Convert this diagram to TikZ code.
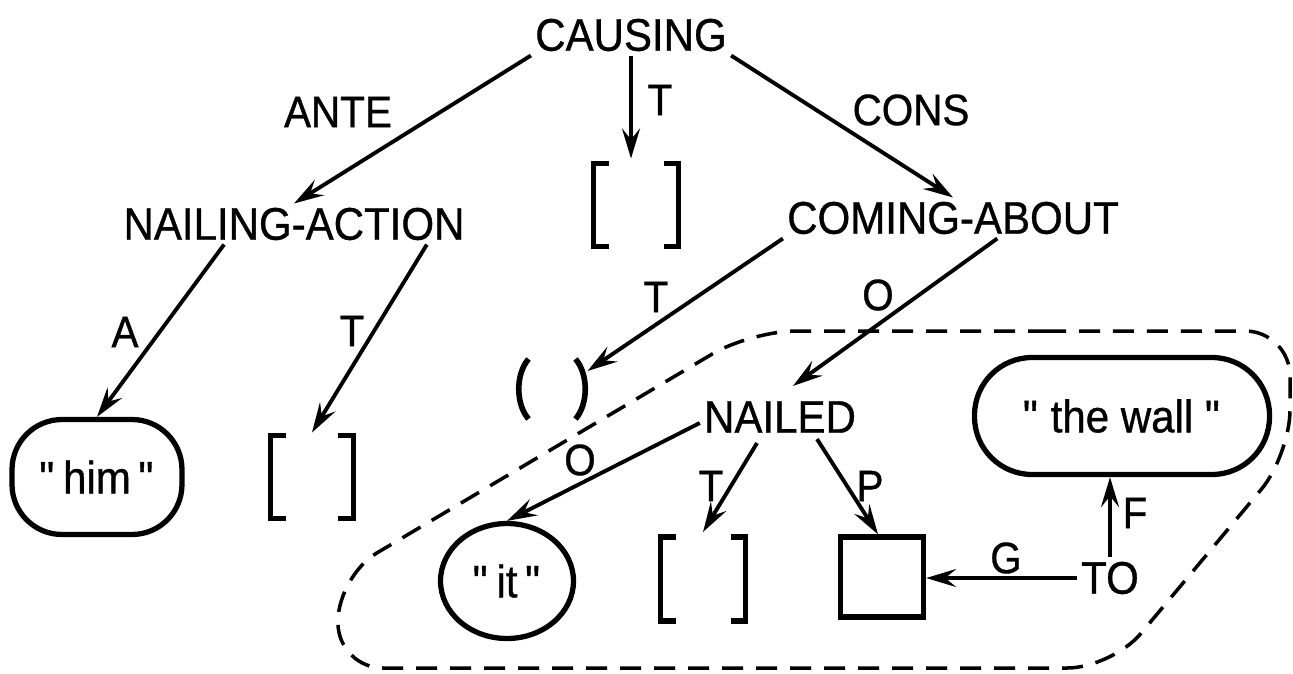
\documentclass[tikz,border=0pt]{standalone}
\usepackage{fontspec}
\setmainfont{Liberation Sans}[FakeStretch=0.92,FakeBold=0.8]
\usetikzlibrary{arrows.meta,calc,shapes.geometric}
\newcommand\dq{\XeTeXglyph\XeTeXcharglyph"22\relax}
\newcommand\sqbrk[1]{%
  \draw[brk] ($(#1.north west)+(15,0)$) -- (#1.north west) -- (#1.south west) -- ($(#1.south west)+(15,0)$);
  \draw[brk] ($(#1.north east)+(-15,0)$) -- (#1.north east) -- (#1.south east) -- ($(#1.south east)+(-15,0)$);}
\begin{document}
\begin{tikzpicture}[x=0.02cm,y=-0.02cm,
  txt/.style={font=\fontsize{26}{30}\selectfont, inner sep=0.08cm},
  lbl/.style={font=\fontsize{25}{30}\selectfont, inner sep=0pt},
  edge/.style={line width=2.2pt, -{Stealth[length=0.6cm,width=0.36cm,inset=0.22cm]}},
  bord/.style={draw, line width=3pt},
  brk/.style={line width=3.2pt},
  brknode/.style={rectangle, inner sep=0pt, outer sep=0pt},
  bnd/.style={line width=2pt, dash pattern=on 0.42cm off 0.26cm, rounded corners=0.9cm}]
\path[fill=white,use as bounding box] (0,0) rectangle (1293,673);

% main nodes
\node[txt] (causing) at (631,35) {CAUSING};
\node[txt] (naction) at (294,224) {NAILING-ACTION};
\node[txt] (coming) at (953,218) {COMING-ABOUT};
\node[txt] (nailed) at (780,417) {NAILED};
\node[txt] (to) at (1110,578) {TO};
\node[bord, txt, rounded corners=1cm, minimum width=3.4cm, minimum height=2.3cm] (him) at (97,477) {\dq\,him\,\dq};
\node[bord, txt, ellipse, minimum width=2.66cm, minimum height=2.3cm] (it) at (507,581) {\dq\,it\,\dq};
\node[bord, txt, rounded corners=1.15cm, minimum width=5.9cm, minimum height=2.34cm] (wall) at (1122,416) {\dq\ the wall \dq};
\node[bord, minimum width=1.66cm, minimum height=1.6cm, inner sep=0pt] (sq) at (882,577) {};

% bracket and paren nodes
\node[brknode, minimum width=1.7cm, minimum height=1.66cm] (tb) at (636,205) {};
\node[brknode, minimum width=1.66cm, minimum height=1.66cm] (lb) at (312,477) {};
\node[brknode, minimum width=1.7cm, minimum height=1.68cm] (nb) at (703,579) {};
\node[brknode, minimum width=1.34cm, minimum height=1.2cm] (par) at (552,389) {};
\sqbrk{tb}
\sqbrk{lb}
\sqbrk{nb}
\draw[brk] ($(par.north west)+(10,0)$) .. controls ($(par.west)+(-3,-15)$) and ($(par.west)+(-3,15)$) .. ($(par.south west)+(10,0)$);
\draw[brk] ($(par.north east)+(-10,0)$) .. controls ($(par.east)+(3,-15)$) and ($(par.east)+(3,15)$) .. ($(par.south east)+(-10,0)$);

% dashed boundary
\draw[bnd] (1000,331) -- (1290,331) -- (1290,455) -- (1112,668) -- (338,668) -- (338,576) -- (751,331) -- cycle;

% edges
\draw[edge] (causing.south west) -- (naction.north);
\draw[edge] (causing.south) -- ($(causing.south |- tb.north)+(0,-5)$);
\draw[edge] (causing.south east) -- (coming.north);
\draw[edge] ($(naction.south west)!0.3!(naction.south east)$) -- (him.north);
\draw[edge] ($(naction.south west)!0.88!(naction.south east)$) -- ($(lb.north)+(0,-3)$);
\draw[edge] (coming.south west) -- ($(par.north east)+(2,12)$);
\draw[edge] ($(coming.south west)!0.63!(coming.south east)$) -- ($(nailed.north)+(13,-11)$);
\draw[edge] ($(nailed.west)+(0,6)$) -- (it.north);
\draw[edge] ($(nailed.south)+(-23,6)$) -- ($(nb.north)+(0,-5)$);
\draw[edge] ($(nailed.south)+(37,2)$) -- ($(sq.north)+(-4,0)$);
\draw[edge] (to.west) -- (to.west -| sq.east);
\draw[edge] (to.north) -- (to.north |- wall.south);

% labels
\node[lbl] (lante) at (338,112) {ANTE};
\node[lbl] (lt1) at (660,100) {T};
\node[lbl] (lcons) at (911,110) {CONS};
\node[lbl] (la) at (125,332) {A};
\node[lbl] (lt2) at (352,331) {T};
\node[lbl] (lt3) at (656,297) {T};
\node[lbl] (lo1) at (878,295) {O};
\node[lbl] (lo2) at (580,460) {O};
\node[lbl] (lt4) at (711,486) {T};
\node[lbl] (lp) at (870,486) {P};
\node[lbl] (lg) at (1006,558) {G};
\node[lbl] (lf) at (1135,513) {F};
\end{tikzpicture}
\end{document}
